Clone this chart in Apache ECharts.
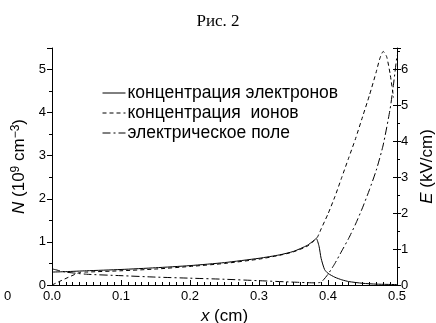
<!DOCTYPE html>
<html><head><meta charset="utf-8">
<script src="https://cdn.jsdelivr.net/npm/echarts@6/dist/echarts.min.js"></script>
<style>html,body{margin:0;padding:0;background:#fff}#c{width:436px;height:323px}</style>
</head><body><div id="c"></div>
<script>
// x (cm) positions and values
const xElectrons = [0, 0.02, 0.05, 0.1, 0.15, 0.2, 0.25, 0.3, 0.33, 0.35, 0.37, 0.38, 0.383, 0.387, 0.39, 0.395, 0.4, 0.41, 0.42, 0.43, 0.45, 0.47, 0.5];
const nElectrons = [0.3, 0.31, 0.33, 0.36, 0.4, 0.45, 0.52, 0.62, 0.7, 0.78, 0.92, 1.04, 1.08, 0.9, 0.62, 0.36, 0.27, 0.18, 0.12, 0.08, 0.04, 0.02, 0.01];
const xIons = [0, 0.04, 0.05, 0.1, 0.15, 0.2, 0.25, 0.3, 0.33, 0.35, 0.37, 0.38, 0.385, 0.39, 0.4, 0.41, 0.42, 0.43, 0.44, 0.45, 0.46, 0.47, 0.475, 0.48, 0.485, 0.49, 0.495];
const nIons = [0, 0.29, 0.3, 0.33, 0.37, 0.43, 0.5, 0.6, 0.69, 0.77, 0.9, 1.03, 1.12, 1.3, 1.65, 2.05, 2.5, 2.95, 3.4, 3.9, 4.4, 4.95, 5.25, 5.42, 5.3, 4.9, 4.35];
const xField = [0, 0.02, 0.05, 0.1, 0.15, 0.2, 0.25, 0.3, 0.35, 0.38, 0.39, 0.4, 0.41, 0.42, 0.43, 0.44, 0.45, 0.46, 0.47, 0.48, 0.49, 0.495, 0.5];
const eField = [0.45, 0.36, 0.3, 0.26, 0.22, 0.19, 0.16, 0.12, 0.08, 0.06, 0.08, 0.3, 0.6, 0.95, 1.3, 1.7, 2.15, 2.65, 3.2, 3.9, 4.9, 5.6, 6.4];
const seriesNames = ['концентрация электронов', 'концентрация  ионов', 'электрическое поле'];
const titleText = 'Рис. 2';

const zip = (xs, ys) => xs.map((x, i) => [x, ys[i]]);
const FONT = 'Liberation Sans';
const chart = echarts.init(document.getElementById('c'), null, {renderer: 'canvas'});
const lineBase = {type: 'line', showSymbol: false, symbol: 'none', smooth: 0.2, animation: false};
chart.setOption({
  animation: false,
  title: {text: titleText, left: 'center', top: 8, textStyle: {fontFamily: 'Liberation Serif', fontSize: 17, fontWeight: 'normal', color: '#000'}},
  grid: {left: 52, right: 39, top: 48, bottom: 38, outerBoundsMode: 'none', containLabel: false},
  legend: {
    left: 97, top: 79, orient: 'vertical', itemGap: 2, itemWidth: 23, itemHeight: 17,
    itemStyle: {opacity: 0},
    lineStyle: {width: 1},
    textStyle: {fontFamily: FONT, fontSize: 17.5, color: '#000', padding: [0, 0, 0, -3]},
    data: seriesNames
  },
  xAxis: {
    type: 'value', min: 0, max: 0.5, interval: 0.1,
    name: '{i|x} (cm)', nameLocation: 'middle', nameGap: 18,
    nameTextStyle: {fontFamily: FONT, fontSize: 17, color: '#000', rich: {i: {fontFamily: FONT, fontSize: 17, fontStyle: 'italic', color: '#000'}}},
    axisLine: {show: true, lineStyle: {color: '#000', width: 1}},
    axisTick: {show: true, inside: true, length: 5, lineStyle: {color: '#000'}},
    minorTick: {show: true, splitNumber: 10, length: 3, lineStyle: {color: '#000'}},
    axisLabel: {fontFamily: FONT, fontSize: 13, color: '#000', margin: 5, formatter: v => v.toFixed(1)},
    splitLine: {show: false}
  },
  yAxis: [{
    type: 'value', min: 0, max: 5.5, interval: 1, position: 'left',
    name: '{i|N} (10{s|9} cm{s|−3})', nameLocation: 'middle', nameGap: 19, nameRotate: 90,
    nameTextStyle: {fontFamily: FONT, fontSize: 17, color: '#000', rich: {
      i: {fontFamily: FONT, fontSize: 17, fontStyle: 'italic', color: '#000'},
      s: {fontFamily: FONT, fontSize: 12, color: '#000', verticalAlign: 'top', padding: [0, 0, 7, 0]}}},
    axisLine: {show: true, lineStyle: {color: '#000'}},
    axisTick: {show: true, length: 5, lineStyle: {color: '#000'}},
    minorTick: {show: true, splitNumber: 2, length: 3, lineStyle: {color: '#000'}},
    axisLabel: {fontFamily: FONT, fontSize: 13, color: '#000', margin: 6, formatter: v => Number.isInteger(v) ? String(v) : ''},
    splitLine: {show: false}
  }, {
    type: 'value', min: 0, max: 6.6, interval: 1, position: 'right',
    name: '{i|E} (kV/cm)', nameLocation: 'middle', nameGap: 14, nameRotate: 90,
    nameTextStyle: {fontFamily: FONT, fontSize: 17, color: '#000', rich: {i: {fontFamily: FONT, fontSize: 17, fontStyle: 'italic', color: '#000'}}},
    axisLine: {show: true, lineStyle: {color: '#000'}},
    axisTick: {show: true, length: 4, lineStyle: {color: '#000'}},
    minorTick: {show: true, splitNumber: 2, length: 3, lineStyle: {color: '#000'}},
    axisLabel: {fontFamily: FONT, fontSize: 13, color: '#000', margin: 4, formatter: v => Number.isInteger(v) ? String(v) : ''},
    splitLine: {show: false}
  }, {
    type: 'value', min: 0, max: 6.6, interval: 1, position: 'right',
    axisLine: {show: false},
    axisTick: {show: true, inside: true, length: 4, lineStyle: {color: '#000'}},
    minorTick: {show: false},
    axisLabel: {show: false},
    splitLine: {show: false}
  }],
  graphic: [{type: 'text', left: 4, top: 290, style: {text: '0', fontFamily: FONT, fontSize: 13, fill: '#000'}}],
  series: [
    Object.assign({}, lineBase, {name: seriesNames[0], yAxisIndex: 0, data: zip(xElectrons, nElectrons), lineStyle: {color: '#000', width: 1, type: 'solid'}, itemStyle: {color: '#000'}}),
    Object.assign({}, lineBase, {name: seriesNames[1], yAxisIndex: 0, data: zip(xIons, nIons), lineStyle: {color: '#000', width: 1, type: [4, 3]}, itemStyle: {color: '#000'}}),
    Object.assign({}, lineBase, {name: seriesNames[2], yAxisIndex: 1, data: zip(xField, eField), lineStyle: {color: '#000', width: 1, type: [8, 3, 2, 3]}, itemStyle: {color: '#000'}})
  ]
});
</script></body></html>
